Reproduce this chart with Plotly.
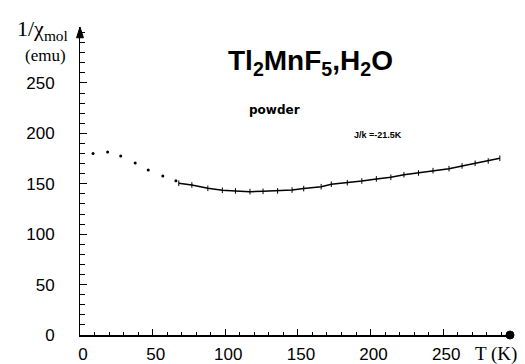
import plotly.graph_objects as go

# Data
dot_T = [9, 19, 28, 38, 47, 57, 66]
dot_inv_chi = [180, 181.5, 177.5, 170.5, 163.7, 157.7, 153]

fit_T = [68, 77, 88, 98, 107, 117, 126, 136, 146, 154, 166, 173, 184, 194,
         204, 214, 223, 233, 243, 254, 263, 272, 281, 289]
fit_inv_chi = [150.5, 148.8, 145.5, 143.5, 142.9, 142.2, 142.5, 142.9, 143.8,
               145.2, 147.1, 149.6, 151.1, 152.8, 154.8, 156.4, 159, 160.7,
               163, 165, 167.7, 170.3, 172.6, 175.3]

x_ticks = [0, 50, 100, 150, 200, 250]
y_ticks = [0, 50, 100, 150, 200, 250]

fig = go.Figure()
fig.add_trace(go.Scatter(
    x=dot_T, y=dot_inv_chi, mode="markers",
    marker=dict(symbol="circle", size=3, color="black"),
    showlegend=False, cliponaxis=False))
fig.add_trace(go.Scatter(
    x=fit_T, y=fit_inv_chi, mode="lines+markers",
    line=dict(color="black", width=1.5),
    marker=dict(symbol="line-ns", size=4, line=dict(color="black", width=1)),
    showlegend=False))

tick_font = dict(family="Liberation Sans, Arial, sans-serif", size=17, color="black")
serif = "Liberation Serif, Times New Roman, serif"

fig.update_layout(
    width=517, height=356,
    margin=dict(l=72, r=15, t=19, b=29),
    paper_bgcolor="white", plot_bgcolor="white",
    xaxis=dict(range=[0, 296], tickvals=x_ticks, ticktext=[str(v) for v in x_ticks],
               showgrid=False, zeroline=False, showline=True, linecolor="black",
               linewidth=1.5, ticks="inside", ticklen=6, tickcolor="black",
               tickwidth=1, tickfont=tick_font, ticklabelstandoff=3, ticklabelshift=3,
               automargin=False,
               minor=dict(dtick=10, ticks="inside", ticklen=3, tickcolor="black")),
    yaxis=dict(range=[0, 305.5], tickvals=y_ticks, ticktext=[str(v) for v in y_ticks],
               showgrid=False, zeroline=False, showline=True, linecolor="black",
               linewidth=1, ticks="inside", ticklen=7, tickcolor="black",
               tickwidth=1, tickfont=tick_font, ticklabelstandoff=21, automargin=False,
               minor=dict(dtick=10, ticks="inside", ticklen=5, tickcolor="black")),
    shapes=[
        dict(type="path", xref="paper", yref="paper",
             path="M -0.008,0.965 L 0.008,0.965 L 0,1.0 Z",
             fillcolor="black", line=dict(color="black", width=1)),
        dict(type="circle", xref="paper", yref="paper",
             xsizemode="pixel", ysizemode="pixel", xanchor=1, yanchor=0,
             x0=-4, x1=4, y0=-4, y1=4, fillcolor="black",
             line=dict(color="black", width=1)),
    ],
    annotations=[
        dict(text="1/χ<sub>mol</sub>", xref="paper", yref="paper", x=-0.088, y=0.99,
             showarrow=False, xanchor="center", yanchor="middle",
             font=dict(family=serif, size=22, color="black")),
        dict(text="(emu)", xref="paper", yref="paper", x=-0.081, y=0.909,
             showarrow=False, xanchor="center", yanchor="middle",
             font=dict(family=serif, size=17, color="black")),
        dict(text="T (K)", xref="paper", yref="paper", x=0.967, y=-0.062,
             showarrow=False, xanchor="center", yanchor="middle",
             font=dict(family=serif, size=19, color="black")),
        dict(text="Tl<sub>2</sub>MnF<sub>5</sub>,H<sub>2</sub>O", xref="paper", yref="paper",
             x=0.537, y=0.885, showarrow=False, xanchor="center", yanchor="middle",
             font=dict(family="Liberation Sans, Arial, sans-serif", size=28, color="black",
                       weight="bold")),
        dict(text="powder", xref="paper", yref="paper", x=0.453, y=0.731,
             showarrow=False, xanchor="center", yanchor="middle",
             font=dict(family="DejaVu Sans, sans-serif", size=12, color="black", weight="bold")),
        dict(text="J/k =-21.5K", xref="paper", yref="paper", x=0.693, y=0.649,
             showarrow=False, xanchor="center", yanchor="middle",
             font=dict(family="Liberation Sans, Arial, sans-serif", size=9, color="black", weight="bold")),
    ],
)

fig.write_html("out.html")
